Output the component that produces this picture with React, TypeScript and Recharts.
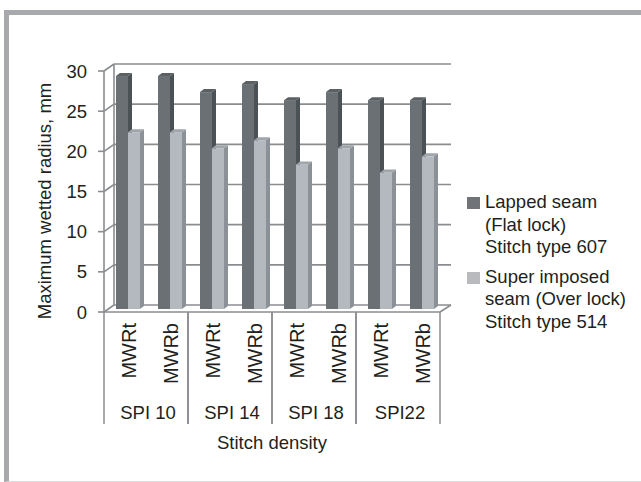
import React from 'react';
import { BarChart, Bar, XAxis, YAxis, CartesianGrid, Label } from 'recharts';

const FONT = '"Liberation Sans", Arial, sans-serif';

// measurement labels, their stitch-density groups, and the two seam series
const positions = ['MWRt', 'MWRb', 'MWRt', 'MWRb', 'MWRt', 'MWRb', 'MWRt', 'MWRb'];
const densities = ['SPI 10', 'SPI 10', 'SPI 14', 'SPI 14', 'SPI 18', 'SPI 18', 'SPI22', 'SPI22'];
const lappedSeam = [29, 29, 27, 28, 26, 27, 26, 26];
const superImposedSeam = [22, 22, 20, 21, 18, 20, 17, 19];
const yTicks = [0, 5, 10, 15, 20, 25, 30];

const data = positions.map((pos, i) => ({
  pos,
  group: densities[i],
  lapped: lappedSeam[i],
  superImposed: superImposedSeam[i],
}));

const W = 641;
const H = 482;
const PLOT_LEFT = 104;
const PLOT_RIGHT = 440;
const PLOT_TOP = 71;
const PLOT_BOTTOM = 312;
const GROUP_HALF = (PLOT_RIGHT - PLOT_LEFT) / 8;

// back wall depth offset and bar depth
const WALL_DX = 10;
const WALL_DY = -7;
const BAR_DX = 4;
const BAR_DY = 3;
const GRID = '#8a8d90';
const TEXT = '#231f20';

function makeBar(front: string, side: string, top: string) {
  return (props: any) => {
    const { width, height } = props;
    if (!height || height <= 0) return <g />;
    const x = props.x + 3;
    const y = props.y - 3;
    const r = x + width;
    const b = y + height;
    return (
      <g>
        <rect x={x} y={y} width={width} height={height} fill={front} />
        <polygon points={`${r},${y} ${r + BAR_DX},${y - BAR_DY} ${r + BAR_DX},${b - BAR_DY} ${r},${b}`} fill={side} />
        <polygon points={`${x},${y} ${x + BAR_DX},${y - BAR_DY} ${r + BAR_DX},${y - BAR_DY} ${r},${y}`} fill={top} />
      </g>
    );
  };
}

const DarkBar = makeBar('#6a7074', '#4b5255', '#5a6063');
const LightBar = makeBar('#b4b9bf', '#8b9196', '#a0a5aa');

function GridLine(props: any) {
  const { x1, x2, y1, index } = props;
  const y = y1;
  const bx = x1 + WALL_DX;
  const by = y + WALL_DY;
  const isFloor = Math.abs(y - PLOT_BOTTOM) < 1;
  const isTop = Math.abs(y - PLOT_TOP) < 1;
  return (
    <g key={`grid-${index}`} stroke={GRID} strokeWidth={1.6} fill="none">
      <line x1={x1} y1={y} x2={bx} y2={by} />
      <line x1={bx} y1={by} x2={x2 + WALL_DX + 1} y2={by} />
      {isFloor && <line x1={x1} y1={y} x2={x2} y2={y} />}
      {isFloor && <line x1={x2} y1={y} x2={x2 + WALL_DX + 1} y2={by} />}
      {isTop && <line x1={bx} y1={by} x2={bx} y2={PLOT_BOTTOM + WALL_DY} />}
    </g>
  );
}

function PositionTick(props: any) {
  const { x, payload } = props;
  const tx = x + 4;
  const ty = PLOT_BOTTOM + 11;
  return (
    <text
      x={tx}
      y={ty}
      transform={`rotate(-90 ${tx} ${ty})`}
      textAnchor="end"
      dominantBaseline="central"
      fontSize={20}
      fontFamily={FONT}
      fill={TEXT}
    >
      {payload.value}
    </text>
  );
}

function GroupTick(props: any) {
  const { x, payload } = props;
  const left = x - GROUP_HALF;
  const right = x + GROUP_HALF;
  return (
    <g>
      <line x1={left} y1={PLOT_BOTTOM} x2={left} y2={PLOT_BOTTOM + 112} stroke={GRID} strokeWidth={1.5} />
      <line x1={right} y1={PLOT_BOTTOM} x2={right} y2={PLOT_BOTTOM + 112} stroke={GRID} strokeWidth={1.5} />
      <text x={x + 2} y={PLOT_BOTTOM + 100} textAnchor="middle" dominantBaseline="central" fontSize={18.5} fontFamily={FONT} fill={TEXT}>
        {payload.value}
      </text>
    </g>
  );
}

const legendItems = [
  { color: '#707478', lines: ['Lapped seam', '(Flat lock)', 'Stitch type 607'] },
  { color: '#b8babd', lines: ['Super imposed', 'seam (Over lock)', 'Stitch type 514'] },
];

function SeamLegend() {
  return (
    <div style={{ position: 'absolute', left: 467, top: 191, fontFamily: FONT, fontSize: 18.5, color: TEXT, lineHeight: '22.5px' }}>
      {legendItems.map((item) => (
        <div key={item.lines[0]} style={{ display: 'flex', alignItems: 'flex-start', marginBottom: 7 }}>
          <div style={{ width: 13, height: 12, background: item.color, marginTop: 6, marginRight: 5 }} />
          <div>
            {item.lines.map((l) => (
              <div key={l} style={{ whiteSpace: 'nowrap' }}>{l}</div>
            ))}
          </div>
        </div>
      ))}
    </div>
  );
}

export default function App() {
  return (
    <div style={{ position: 'absolute', left: 0, top: 0, width: W, height: H, background: '#fff' }}>
      <div
        style={{
          position: 'absolute',
          left: 4,
          top: 10,
          width: W - 4,
          height: H - 10,
          boxSizing: 'border-box',
          borderTop: '5px solid #a8a9ac',
          borderLeft: '5px solid #a8a9ac',
          borderBottom: '1px solid #dcdcdc',
        }}
      />
      <BarChart
        width={W}
        height={H}
        data={data}
        margin={{ top: PLOT_TOP, right: W - PLOT_RIGHT, left: 0, bottom: 0 }}
        barGap={0}
        barSize={12}
        style={{ position: 'absolute', left: 0, top: 0 }}
      >
        <CartesianGrid vertical={false} horizontal={GridLine} />
        <XAxis xAxisId="pos" dataKey="pos" height={80} axisLine={false} tickLine={false} interval={0} tick={PositionTick} />
        <XAxis
          xAxisId="group"
          dataKey="group"
          allowDuplicatedCategory={false}
          height={H - PLOT_BOTTOM - 80}
          axisLine={false}
          tickLine={false}
          interval={0}
          tick={GroupTick}
        >
          <Label
            content={() => (
              <text x={(PLOT_LEFT + PLOT_RIGHT) / 2} y={442} textAnchor="middle" dominantBaseline="central" fontSize={18.5} fontFamily={FONT} fill={TEXT}>
                Stitch density
              </text>
            )}
          />
        </XAxis>
        <YAxis
          width={PLOT_LEFT}
          domain={[0, 30]}
          ticks={yTicks}
          interval={0}
          axisLine={{ stroke: GRID, strokeWidth: 1.6 }}
          tickLine={{ stroke: GRID, strokeWidth: 1.6 }}
          tickSize={6}
          tickMargin={11}
          tick={{ fontSize: 18.5, fontFamily: FONT, fill: TEXT }}
        >
          <Label
            content={() => (
              <text x={44} y={201} transform="rotate(-90 44 201)" textAnchor="middle" dominantBaseline="central" fontSize={18.5} fontFamily={FONT} fill={TEXT}>
                Maximum wetted radius, mm
              </text>
            )}
          />
        </YAxis>
        <Bar xAxisId="pos" dataKey="lapped" name="Lapped seam (Flat lock) Stitch type 607" shape={DarkBar} isAnimationActive={false} />
        <Bar xAxisId="pos" dataKey="superImposed" name="Super imposed seam (Over lock) Stitch type 514" shape={LightBar} isAnimationActive={false} />
      </BarChart>
      <SeamLegend />
    </div>
  );
}
